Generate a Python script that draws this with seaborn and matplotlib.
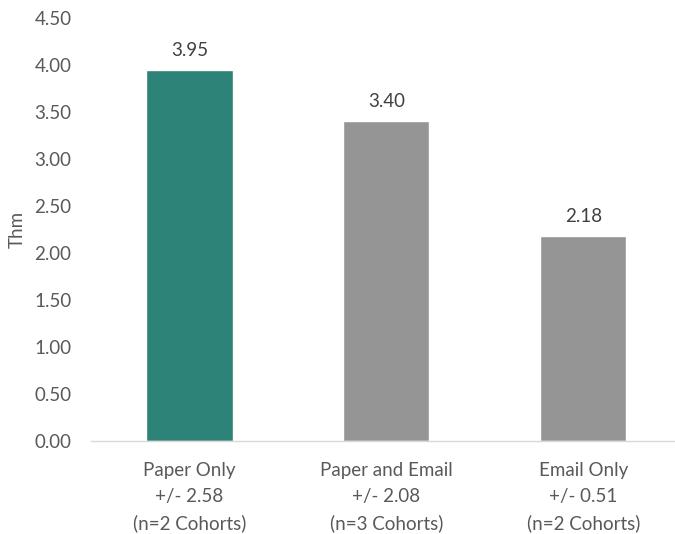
import matplotlib
matplotlib.use("Agg")
import matplotlib.pyplot as plt
import seaborn as sns
import pandas as pd

categories = ["Paper Only\n+/- 2.58\n(n=2 Cohorts)",
              "Paper and Email\n+/- 2.08\n(n=3 Cohorts)",
              "Email Only\n+/- 0.51\n(n=2 Cohorts)"]
values = [3.95, 3.40, 2.18]
bar_colors = ["#2E8379", "#959595", "#959595"]
y_ticks = [0, 0.5, 1.0, 1.5, 2.0, 2.5, 3.0, 3.5, 4.0, 4.5]

sns.set_theme(style="white")
plt.rcParams["font.family"] = ["Lato", "DejaVu Sans"]
text_color = "#595959"

df = pd.DataFrame({"category": categories, "value": values})

fig = plt.figure(figsize=(6.75, 5.34), dpi=100)
W, H = 675, 534
ax = fig.add_axes([91 / W, 93 / H, (675 - 91) / W, 423 / H])

sns.barplot(data=df, x="category", y="value", hue="category",
            palette=bar_colors, legend=False, width=0.437, ax=ax,
            saturation=1)

ax.set_xlim(-0.5, 2.465)
ax.set_ylim(0, 4.5)
ax.set_yticks(y_ticks)
ax.set_yticklabels([f"{t:.2f}" for t in y_ticks])
ax.tick_params(axis="both", length=0, colors=text_color, labelsize=13.5)
ax.tick_params(axis="x", pad=15)
ax.tick_params(axis="y", pad=14)
for lbl in ax.get_xticklabels():
    lbl.set_linespacing(1.65)

for s in ["top", "right", "left"]:
    ax.spines[s].set_visible(False)
ax.spines["bottom"].set_color("#D9D9D9")
ax.spines["bottom"].set_linewidth(1.0)

ax.set_xlabel("")
ax.set_ylabel("Thm", color=text_color, fontsize=13.5)
ax.yaxis.set_label_coords((26 - 91) / 584, 0.5)

for i, v in enumerate(values):
    ax.annotate(f"{v:.2f}", xy=(i, v), xytext=(0, 8), textcoords="offset points",
                ha="center", va="bottom", color="#404040", fontsize=13.5)

fig.savefig("out.png", dpi=100)
